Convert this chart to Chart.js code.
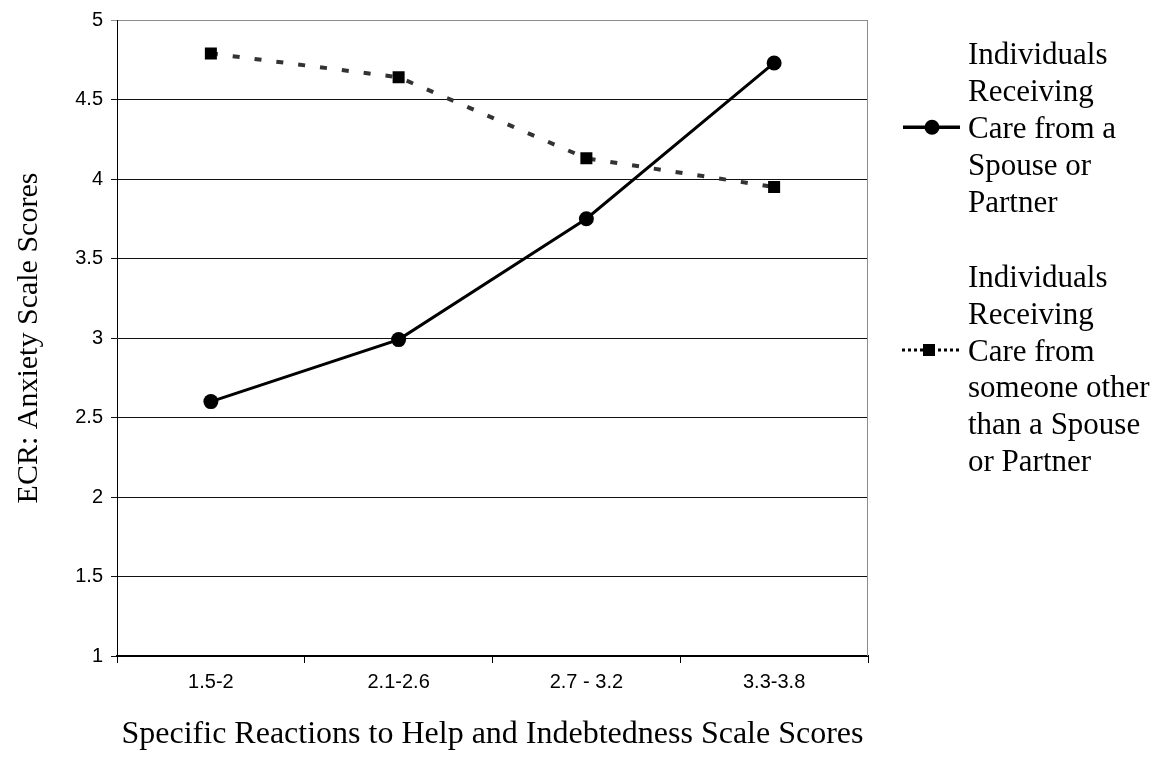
<!DOCTYPE html>
<html>
<head>
<meta charset="utf-8">
<title>ECR Anxiety by Reactions to Help</title>
<script src="https://cdn.jsdelivr.net/npm/chart.js@4.4.1/dist/chart.umd.min.js"></script>
<style>
  html, body { margin: 0; padding: 0; background: #fff; }
  canvas { display: block; }
</style>
</head>
<body>
<canvas id="chart" width="1166" height="779"></canvas>
<script>
// Score bands on the Specific Reactions to Help and Indebtedness scale
const categories = ['1.5-2', '2.1-2.6', '2.7 - 3.2', '3.3-3.8'];

// Mean ECR anxiety score in each band
const spouseScores = [2.60, 2.99, 3.75, 4.73];
const otherScores = [4.79, 4.64, 4.13, 3.95];

// Series names, wrapped the way the legend prints them
const spouseLabel = ['Individuals', 'Receiving', 'Care from a', 'Spouse or', 'Partner'];
const otherLabel = ['Individuals', 'Receiving', 'Care from', 'someone other', 'than a Spouse', 'or Partner'];

// Y axis range and spacing
const yMin = 1;
const yMax = 5;
const yStep = 0.5;

const xTitle = 'Specific Reactions to Help and Indebtedness Scale Scores';
const yTitle = 'ECR: Anxiety Scale Scores';

const tickFont = { family: "'Liberation Sans Narrow', 'Arial Narrow', 'Liberation Sans', Arial, sans-serif", size: 20 };
const serif = "'Liberation Serif', 'Times New Roman', serif";

// Frames the plot (grey right edge) and prints the wrapped legend at the right
const framePlugin = {
  id: 'frameAndLegend',
  beforeDatasetsDraw(chart) {
    const { ctx, chartArea: a } = chart;
    ctx.save();
    ctx.strokeStyle = '#8c8c8c';
    ctx.lineWidth = 1;
    ctx.beginPath();
    ctx.moveTo(Math.round(a.right) - 0.5, a.top);
    ctx.lineTo(Math.round(a.right) - 0.5, a.bottom);
    ctx.stroke();
    ctx.restore();
  },
  afterDraw(chart) {
    const { ctx } = chart;
    const textX = 968;
    const lineStep = 36.9;
    const blocks = [
      { lines: spouseLabel, firstBase: 64, markerLine: 2, ds: 0 },
      { lines: otherLabel, firstBase: 286.7, markerLine: 2, ds: 1 }
    ];
    ctx.save();
    ctx.font = '31px ' + serif;
    ctx.fillStyle = '#000';
    ctx.textAlign = 'left';
    ctx.textBaseline = 'alphabetic';
    blocks.forEach(b => {
      b.lines.forEach((t, i) => ctx.fillText(t, textX, b.firstBase + i * lineStep));
      const my = b.firstBase + b.markerLine * lineStep - 10.5;
      ctx.beginPath();
      if (b.ds === 0) {
        ctx.setLineDash([]);
        ctx.lineWidth = 3.5;
        ctx.strokeStyle = '#000';
        ctx.moveTo(903, my);
        ctx.lineTo(960, my);
        ctx.stroke();
        ctx.beginPath();
        ctx.fillStyle = '#000';
        ctx.arc(932, my, 7.5, 0, Math.PI * 2);
        ctx.fill();
      } else {
        ctx.setLineDash([3, 3]);
        ctx.lineWidth = 3;
        ctx.strokeStyle = '#000';
        ctx.moveTo(902, my);
        ctx.lineTo(962, my);
        ctx.stroke();
        ctx.setLineDash([]);
        ctx.fillStyle = '#000';
        ctx.fillRect(923, my - 6, 12, 12);
      }
    });
    ctx.restore();
  }
};

new Chart(document.getElementById('chart'), {
  type: 'line',
  data: {
    labels: categories,
    datasets: [
      {
        label: spouseLabel.join(' '),
        data: spouseScores,
        borderColor: '#000',
        borderWidth: 3,
        tension: 0,
        pointStyle: 'circle',
        pointRadius: 7.5,
        pointHoverRadius: 7.5,
        pointBackgroundColor: '#000',
        pointBorderColor: '#000',
        pointBorderWidth: 0
      },
      {
        label: otherLabel.join(' '),
        data: otherScores,
        borderColor: '#333',
        borderWidth: 4,
        borderDash: [7, 15],
        tension: 0,
        pointStyle: 'rect',
        pointRadius: 8.5,
        pointHoverRadius: 8.5,
        pointBackgroundColor: '#000',
        pointBorderColor: '#000',
        pointBorderWidth: 0
      }
    ]
  },
  options: {
    responsive: false,
    animation: false,
    devicePixelRatio: 1,
    layout: { padding: { top: 20, right: 298, left: 0, bottom: 0 } },
    plugins: {
      legend: { display: false },
      tooltip: { enabled: false }
    },
    scales: {
      x: {
        type: 'category',
        offset: true,
        afterFit(scale) { scale.height = 123; },
        border: { color: '#000', width: 2 },
        grid: {
          offset: true,
          drawOnChartArea: false,
          drawTicks: true,
          tickLength: 7,
          color: '#000',
          lineWidth: 1
        },
        ticks: { color: '#000', font: tickFont, padding: 7, maxRotation: 0 },
        title: {
          display: true,
          text: xTitle,
          color: '#000',
          font: { family: serif, size: 32 },
          padding: { top: 0, bottom: 25 }
        }
      },
      y: {
        min: yMin,
        max: yMax,
        afterFit(scale) { scale.width = 117; },
        border: { color: '#000', width: 1 },
        grid: {
          color: ctx => (ctx.tick && ctx.tick.value === yMax ? '#8c8c8c' : '#111'),
          lineWidth: 1,
          drawTicks: true,
          tickLength: 6
        },
        ticks: {
          stepSize: yStep,
          color: '#000',
          font: tickFont,
          padding: 8,
          callback: value => String(value)
        },
        title: {
          display: true,
          text: yTitle,
          color: '#000',
          font: { family: serif, size: 30 },
          padding: { top: 11, bottom: 0 }
        }
      }
    }
  },
  plugins: [framePlugin]
});
</script>
</body>
</html>
